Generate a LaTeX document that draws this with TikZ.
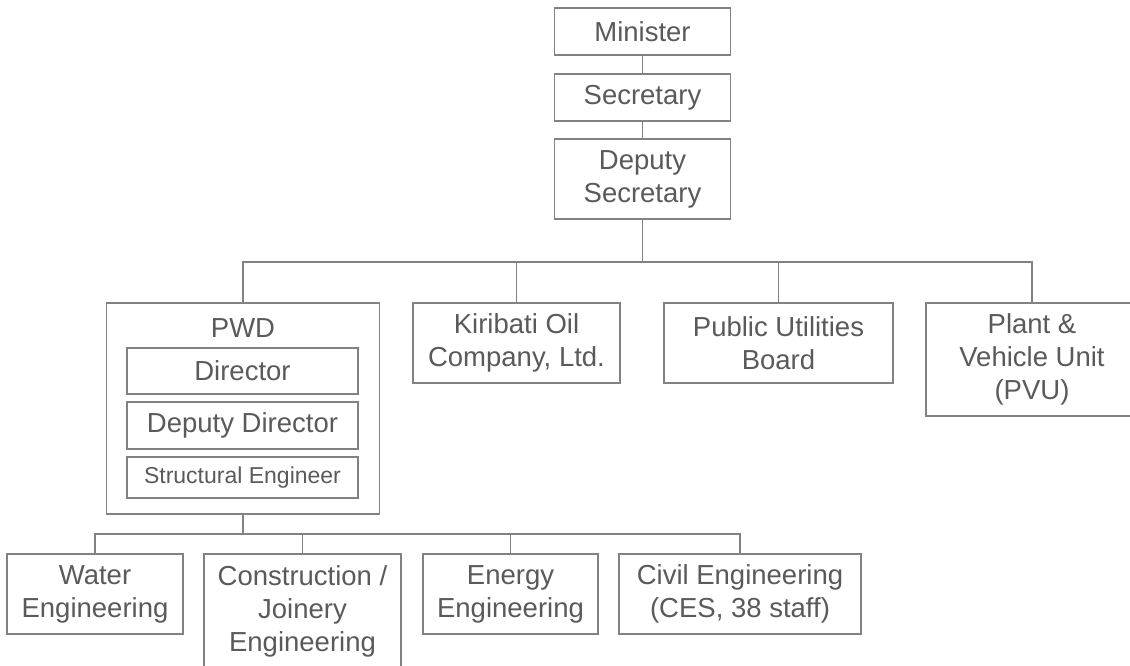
\documentclass[tikz,border=0pt]{standalone}
\usepackage{fontspec}
\setmainfont{Liberation Sans}
\definecolor{linegray}{RGB}{130,130,130}
\definecolor{textgray}{RGB}{90,90,90}
\begin{document}
\begin{tikzpicture}[x=1pt,y=-1pt,
  orgbox/.style={draw=linegray, line width=1.3pt, fill=white, text=textgray, align=center,
    inner sep=0pt, font=\fontsize{27.5}{33}\selectfont},
  smallbox/.style={orgbox, font=\fontsize{23}{27}\selectfont},
  conn/.style={draw=linegray, line width=1.3pt}]
\useasboundingbox (0,0) rectangle (1130,666);
\clip (0,0) rectangle (1130,666);
% top chain
\node[orgbox, minimum width=176pt, minimum height=47pt] (min) at (642.5,31.5) {Minister};
\node[orgbox, minimum width=176pt, minimum height=47pt] (sec) at (642.5,97.5) {Secretary};
\node[orgbox, minimum width=176pt, minimum height=80pt] (ds) at (642.5,179) {Deputy\\Secretary};
% second level
\node[orgbox, minimum width=273pt, minimum height=211pt] (pwd) at (243,408.5) {};
\node[text=textgray, font=\fontsize{27.5}{33}\selectfont, inner sep=0pt] (pwdlbl) at (243,328) {PWD};
\node[orgbox, minimum width=231pt, minimum height=46pt] (dir) at (242.5,371) {Director};
\node[orgbox, minimum width=231pt, minimum height=47pt] (ddir) at (242.5,425.5) {Deputy Director};
\node[smallbox, minimum width=231pt, minimum height=41pt] (seng) at (242.5,477.5) {Structural Engineer};
\node[orgbox, minimum width=207pt, minimum height=80pt] (kir) at (516.5,343) {Kiribati Oil\\Company, Ltd.};
\node[orgbox, minimum width=229pt, minimum height=80pt] (pub) at (778.5,343) {Public Utilities\\Board};
\node[orgbox, minimum width=212pt, minimum height=113pt] (pvu) at (1032,359.5) {Plant \&\\Vehicle Unit\\(PVU)};
% third level
\node[orgbox, minimum width=176pt, minimum height=80pt] (wat) at (95,594) {Water\\Engineering};
\node[orgbox, minimum width=197pt, minimum height=114pt] (con) at (302.5,611) {Construction /\\Joinery\\Engineering};
\node[orgbox, minimum width=175pt, minimum height=80pt] (ene) at (510.5,594) {Energy\\Engineering};
\node[orgbox, minimum width=242pt, minimum height=80pt] (civ) at (740,594) {Civil Engineering\\(CES, 38 staff)};
% buses
\coordinate (bus1) at (642.5,262);
\coordinate (bus2) at (243,534);
% connectors
\draw[conn] (min.south) -- (sec.north);
\draw[conn] (sec.south) -- (ds.north);
\draw[conn] (ds.south) -- (bus1);
\draw[conn] (pwd.north) |- (bus1) -| (pvu.north);
\draw[conn] (kir.north) -- (kir.north |- bus1);
\draw[conn] (pub.north) -- (pub.north |- bus1);
\draw[conn] (pwd.south) -- (bus2);
\draw[conn] (wat.north) |- (bus2) -| (civ.north);
\draw[conn] (con.north) -- (con.north |- bus2);
\draw[conn] (ene.north) -- (ene.north |- bus2);
\end{tikzpicture}
\end{document}
